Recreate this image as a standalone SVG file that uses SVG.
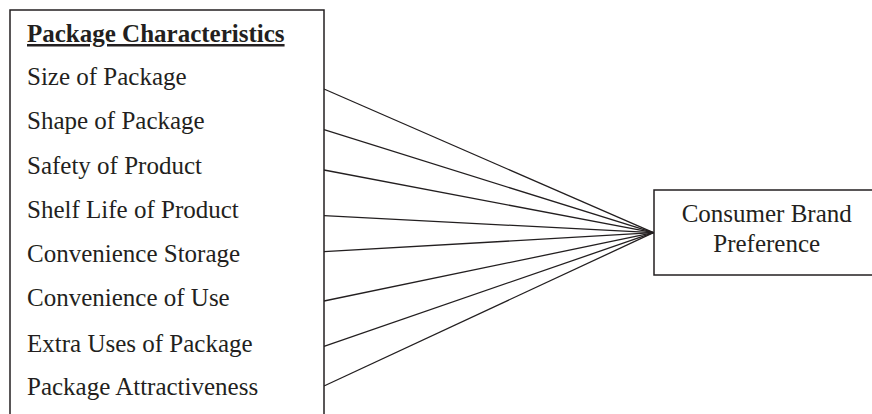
<svg xmlns="http://www.w3.org/2000/svg" width="872" height="414" viewBox="0 0 872 414">
<style>
.box{fill:#fff;stroke:#231f20;stroke-width:1.5}
.t{font-family:"Liberation Serif","Times New Roman",serif;font-size:25px;fill:#231f20}
.h{font-weight:bold;text-decoration:underline}
.c{stroke:#231f20;stroke-width:1.3;fill:none}
</style>
<rect width="872" height="414" fill="#fff"/>
<g id="connectors">
<line class="c" x1="324" y1="89" x2="653.5" y2="232.7"/>
<line class="c" x1="324" y1="129.7" x2="653.5" y2="232.7"/>
<line class="c" x1="324" y1="170" x2="653.5" y2="232.7"/>
<line class="c" x1="324" y1="215.7" x2="653.5" y2="232.7"/>
<line class="c" x1="324" y1="251.7" x2="653.5" y2="232.7"/>
<line class="c" x1="324" y1="301" x2="653.5" y2="232.7"/>
<line class="c" x1="324" y1="346.3" x2="653.5" y2="232.7"/>
<line class="c" x1="324" y1="386" x2="653.5" y2="232.7"/>
</g>
<g id="package-characteristics">
<rect class="box" x="10" y="10" width="314" height="420"/>
<text class="t h" x="27" y="42">Package Characteristics</text>
<text class="t" x="27" y="85">Size of Package</text>
<text class="t" x="27" y="128.5">Shape of Package</text>
<text class="t" x="27" y="174">Safety of Product</text>
<text class="t" x="27" y="218">Shelf Life of Product</text>
<text class="t" x="27" y="262">Convenience Storage</text>
<text class="t" x="27" y="306">Convenience of Use</text>
<text class="t" x="27" y="351.5">Extra Uses of Package</text>
<text class="t" x="27" y="395">Package Attractiveness</text>
</g>
<g id="consumer-brand-preference">
<rect class="box" x="654" y="190" width="226" height="85"/>
<text class="t" x="766.7" y="222" text-anchor="middle">Consumer Brand</text>
<text class="t" x="766.7" y="252" text-anchor="middle">Preference</text>
</g>
</svg>
